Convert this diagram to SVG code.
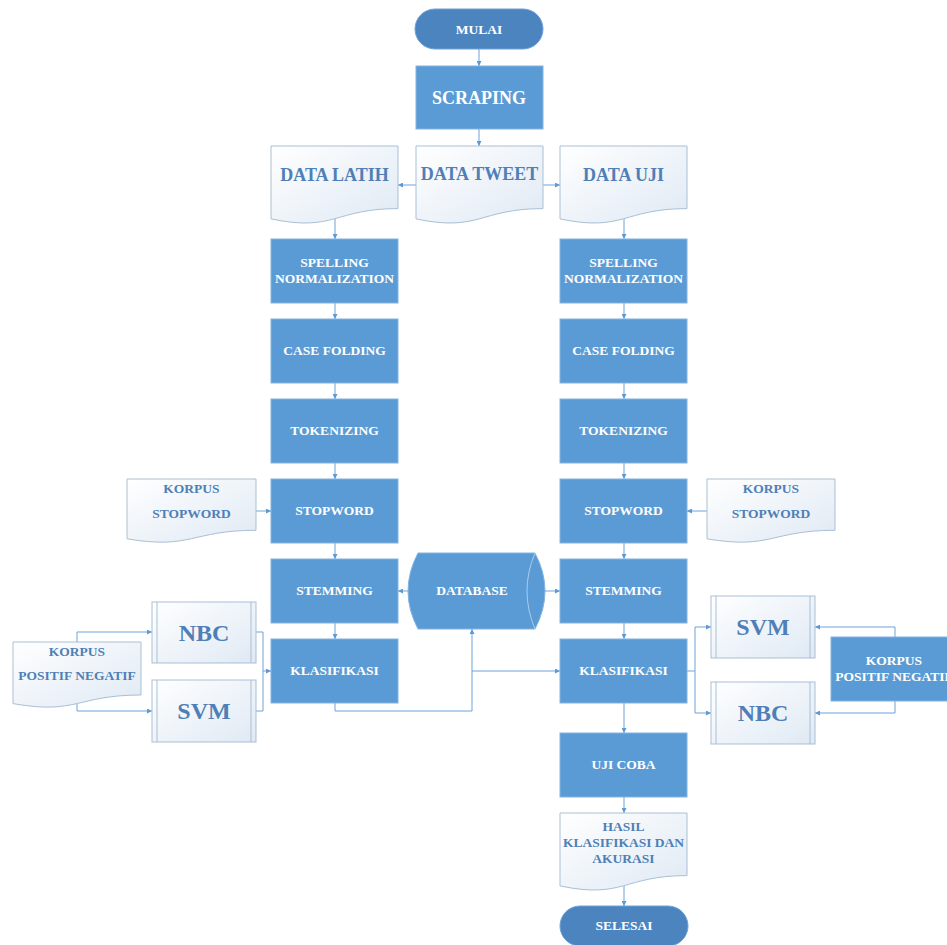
<svg xmlns="http://www.w3.org/2000/svg" width="947" height="945" viewBox="0 0 947 945">
<defs>
<linearGradient id="docg" x1="0" y1="0" x2="1" y2="1">
<stop offset="0" stop-color="#ffffff"/>
<stop offset="1" stop-color="#dfe9f4"/>
</linearGradient>
<marker id="ar" viewBox="0 0 10 10" refX="10" refY="5" markerWidth="5" markerHeight="5" orient="auto" markerUnits="userSpaceOnUse">
<path d="M0,0 L10,5 L0,10 Z" fill="#5b9bd5"/>
</marker>
</defs>
<style>
.proc{fill:#5b9bd5;stroke:#82b3e2;stroke-width:1}
.term{fill:#4c84bf;stroke:#6fa2d6;stroke-width:1}
.doc{fill:url(#docg);stroke:#a9bfd5;stroke-width:1}
.pp{fill:url(#docg);stroke:#a9bfd5;stroke-width:1}
.ppl{stroke:#a9bfd5;stroke-width:1;fill:none}
.wt{font-family:"Liberation Serif","Times New Roman",serif;font-weight:bold;fill:#ffffff;text-anchor:middle}
.bt{font-family:"Liberation Serif","Times New Roman",serif;font-weight:bold;fill:#4f7fb6;text-anchor:middle}
.cn{fill:none;stroke:#6fa3d8;stroke-width:1}
.s12{font-size:13.5px}
.s16{font-size:18px}
.s22{font-size:24px}
</style>
<rect width="947" height="945" fill="#ffffff"/>
<g id="connectors">
<path class="cn" d="M479,49 V66" marker-end="url(#ar)"/>
<path class="cn" d="M479,129 V146" marker-end="url(#ar)"/>
<path class="cn" d="M416,185 H398" marker-end="url(#ar)"/>
<path class="cn" d="M543,185 H560" marker-end="url(#ar)"/>
<path class="cn" d="M335,219 V239" marker-end="url(#ar)"/>
<path class="cn" d="M624,219 V239" marker-end="url(#ar)"/>
<path class="cn" d="M335,303 V319" marker-end="url(#ar)"/>
<path class="cn" d="M335,383 V399" marker-end="url(#ar)"/>
<path class="cn" d="M335,463 V479" marker-end="url(#ar)"/>
<path class="cn" d="M335,543 V559" marker-end="url(#ar)"/>
<path class="cn" d="M335,623 V639" marker-end="url(#ar)"/>
<path class="cn" d="M624,303 V319" marker-end="url(#ar)"/>
<path class="cn" d="M624,383 V399" marker-end="url(#ar)"/>
<path class="cn" d="M624,463 V479" marker-end="url(#ar)"/>
<path class="cn" d="M624,543 V559" marker-end="url(#ar)"/>
<path class="cn" d="M624,623 V639" marker-end="url(#ar)"/>
<path class="cn" d="M624,703 V733" marker-end="url(#ar)"/>
<path class="cn" d="M624,797 V813" marker-end="url(#ar)"/>
<path class="cn" d="M624,886 V906" marker-end="url(#ar)"/>
<path class="cn" d="M256,511 H271" marker-end="url(#ar)"/>
<path class="cn" d="M707,511 H687" marker-end="url(#ar)"/>
<path class="cn" d="M408,591 H398" marker-end="url(#ar)"/>
<path class="cn" d="M545,591 H560" marker-end="url(#ar)"/>
<path class="cn" d="M335,703 V711 H472 V629" marker-end="url(#ar)"/>
<path class="cn" d="M472,671 H560" marker-end="url(#ar)"/>
<path class="cn" d="M77,642 V632 H152" marker-end="url(#ar)"/>
<path class="cn" d="M77,704 V711 H152" marker-end="url(#ar)"/>
<path class="cn" d="M256,632 H263 V711 H256"/>
<path class="cn" d="M263,671 H271" marker-end="url(#ar)"/>
<path class="cn" d="M687,671 H695"/>
<path class="cn" d="M695,627 V713"/>
<path class="cn" d="M695,627 H711" marker-end="url(#ar)"/>
<path class="cn" d="M695,713 H711" marker-end="url(#ar)"/>
<path class="cn" d="M895,637 V627 H815" marker-end="url(#ar)"/>
<path class="cn" d="M895,701 V713 H815" marker-end="url(#ar)"/>
</g>
<g id="mulai">
<rect class="term" x="415" y="9" width="128" height="40" rx="20" ry="20"/>
<text class="wt s12" x="479" y="34">MULAI</text>
</g>
<g id="scraping">
<rect class="proc" x="416" y="66" width="127" height="63"/>
<text class="wt s16" x="479" y="104">SCRAPING</text>
</g>
<g id="data-latih">
<path class="doc" d="M271,146 H398 V208.6 C334.5,208.6 334.5,232.3 271,218.9 Z"/>
<text class="bt s16" x="334.5" y="181">DATA LATIH</text>
</g>
<g id="data-tweet">
<path class="doc" d="M416,146 H543 V208.6 C479.5,208.6 479.5,232.3 416,218.9 Z"/>
<text class="bt s16" x="479.5" y="180">DATA TWEET</text>
</g>
<g id="data-uji">
<path class="doc" d="M560,146 H687 V208.6 C623.5,208.6 623.5,232.3 560,218.9 Z"/>
<text class="bt s16" x="623.5" y="181">DATA UJI</text>
</g>
<g id="l-spelling">
<rect class="proc" x="271" y="239" width="127" height="64"/>
<text class="wt s12" x="334.5" y="267">SPELLING</text>
<text class="wt s12" x="334.5" y="283">NORMALIZATION</text>
</g>
<g id="l-casefolding">
<rect class="proc" x="271" y="319" width="127" height="64"/>
<text class="wt s12" x="334.5" y="355">CASE FOLDING</text>
</g>
<g id="l-tokenizing">
<rect class="proc" x="271" y="399" width="127" height="64"/>
<text class="wt s12" x="334.5" y="435">TOKENIZING</text>
</g>
<g id="l-stopword">
<rect class="proc" x="271" y="479" width="127" height="64"/>
<text class="wt s12" x="334.5" y="515">STOPWORD</text>
</g>
<g id="l-stemming">
<rect class="proc" x="271" y="559" width="127" height="64"/>
<text class="wt s12" x="334.5" y="595">STEMMING</text>
</g>
<g id="l-klasifikasi">
<rect class="proc" x="271" y="639" width="127" height="64"/>
<text class="wt s12" x="334.5" y="675">KLASIFIKASI</text>
</g>
<g id="r-spelling">
<rect class="proc" x="560" y="239" width="127" height="64"/>
<text class="wt s12" x="623.5" y="267">SPELLING</text>
<text class="wt s12" x="623.5" y="283">NORMALIZATION</text>
</g>
<g id="r-casefolding">
<rect class="proc" x="560" y="319" width="127" height="64"/>
<text class="wt s12" x="623.5" y="355">CASE FOLDING</text>
</g>
<g id="r-tokenizing">
<rect class="proc" x="560" y="399" width="127" height="64"/>
<text class="wt s12" x="623.5" y="435">TOKENIZING</text>
</g>
<g id="r-stopword">
<rect class="proc" x="560" y="479" width="127" height="64"/>
<text class="wt s12" x="623.5" y="515">STOPWORD</text>
</g>
<g id="r-stemming">
<rect class="proc" x="560" y="559" width="127" height="64"/>
<text class="wt s12" x="623.5" y="595">STEMMING</text>
</g>
<g id="r-klasifikasi">
<rect class="proc" x="560" y="639" width="127" height="64"/>
<text class="wt s12" x="623.5" y="675">KLASIFIKASI</text>
</g>
<g id="uji-coba">
<rect class="proc" x="560" y="733" width="127" height="64"/>
<text class="wt s12" x="623.5" y="769">UJI COBA</text>
</g>
<g id="hasil">
<path class="doc" d="M560,813 H687 V875.6 C623.5,875.6 623.5,899.3 560,885.9 Z"/>
<text class="bt s12" x="623.5" y="831">HASIL</text>
<text class="bt s12" x="623.5" y="847">KLASIFIKASI DAN</text>
<text class="bt s12" x="623.5" y="863">AKURASI</text>
</g>
<g id="selesai">
<rect class="term" x="560" y="906" width="128" height="40" rx="20" ry="20"/>
<text class="wt s12" x="624" y="930">SELESAI</text>
</g>
<g id="l-korpus-stopword">
<path class="doc" d="M127,479 H256 V530.3 C191.5,530.3 191.5,549.8 127,538.8 Z"/>
<text class="bt s12" x="191.5" y="493">KORPUS</text>
<text class="bt s12" x="191.5" y="518">STOPWORD</text>
</g>
<g id="r-korpus-stopword">
<path class="doc" d="M707,479 H835 V530.3 C771,530.3 771,549.8 707,538.8 Z"/>
<text class="bt s12" x="771" y="493">KORPUS</text>
<text class="bt s12" x="771" y="518">STOPWORD</text>
</g>
<g id="database">
<path class="proc" d="M418,553 H535 Q555,591 535,629 H418 Q398,591 418,553 Z"/>
<path d="M535,553 Q519,591 535,629" fill="none" stroke="#a9cbee" stroke-width="1"/>
<text class="wt s12" x="472" y="595">DATABASE</text>
</g>
<g id="l-korpus-posneg">
<path class="doc" d="M13,642 H141 V695 C77,695 77,715 13,703.6 Z"/>
<text class="bt s12" x="77" y="656">KORPUS</text>
<text class="bt s12" x="77" y="680">POSITIF NEGATIF</text>
</g>
<g id="l-nbc">
<rect class="pp" x="152" y="602" width="104" height="61"/>
<path class="ppl" d="M157,602 V663 M251,602 V663"/>
<text class="bt s22" x="204" y="641">NBC</text>
</g>
<g id="l-svm">
<rect class="pp" x="152" y="680" width="104" height="62"/>
<path class="ppl" d="M157,680 V742 M251,680 V742"/>
<text class="bt s22" x="204" y="719">SVM</text>
</g>
<g id="r-svm">
<rect class="pp" x="711" y="596" width="104" height="62"/>
<path class="ppl" d="M716,596 V658 M810,596 V658"/>
<text class="bt s22" x="763" y="635">SVM</text>
</g>
<g id="r-nbc">
<rect class="pp" x="711" y="682" width="104" height="62"/>
<path class="ppl" d="M716,682 V744 M810,682 V744"/>
<text class="bt s22" x="763" y="721">NBC</text>
</g>
<g id="r-korpus-posneg">
<rect class="proc" x="831" y="637" width="127" height="64"/>
<text class="wt s12" x="894" y="665">KORPUS</text>
<text class="wt s12" x="894" y="681">POSITIF NEGATIF</text>
</g>
</svg>
